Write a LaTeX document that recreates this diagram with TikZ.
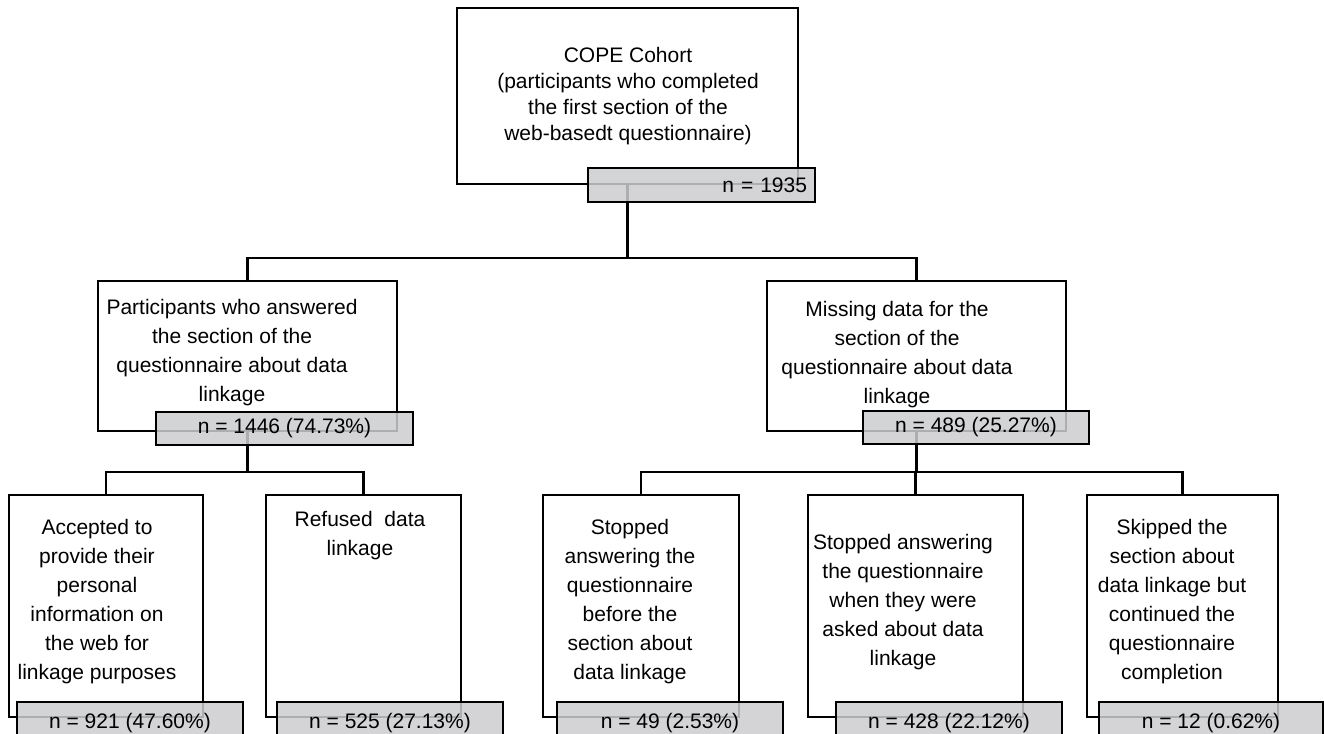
\documentclass[tikz,border=0pt]{standalone}
\usepackage{fontspec}
\setmainfont{Liberation Sans}
\usepackage[dvipsnames]{xcolor}
\definecolor{countgray}{RGB}{204,205,207}

\begin{document}
\begin{tikzpicture}[-, x=1pt, y=-1pt, line width=2.7pt, line cap=rect,
    main box/.style={rectangle, draw, fill=white, inner sep=0pt, outer sep=0pt},
    count box/.style={rectangle, draw, fill=countgray, fill opacity=0.85, text opacity=1, inner sep=0pt, outer sep=0pt, font=\fontsize{21}{29}\selectfont},
    box text/.style={align=center, inner sep=0pt, font=\fontsize{21}{29}\selectfont}]
                \useasboundingbox (0,0) rectangle (1324,733);
                \clip (0,0) rectangle (1324,733);

                % white boxes
                \node[main box, minimum width=341, minimum height=176] (b0) at (627.5,96) {};
                \node[main box, minimum width=299, minimum height=150] (b1) at (247.5,356) {};
                \node[main box, minimum width=299, minimum height=150] (b2) at (916.5,356) {};
                \node[main box, minimum width=194, minimum height=222] (b3) at (106,606) {};
                \node[main box, minimum width=195, minimum height=222] (b4) at (363.5,606) {};
                \node[main box, minimum width=196, minimum height=222] (b5) at (641,606) {};
                \node[main box, minimum width=215, minimum height=222] (b6) at (915.5,606) {};
                \node[main box, minimum width=191, minimum height=222] (b7) at (1182.5,606) {};

                \coordinate (j0) at (627.5,258);
                \coordinate (j1) at (247.5,472);
                \coordinate (j2) at (916.5,472);

                % connectors
                \draw (b0.south) -- (j0);
                \draw (b1.north) |- (j0) -| (b2.north);
                \draw (b1.south) -- (j1);
                \draw (b3.north) |- (j1) -| (b4.north);
                \draw (b2.south) -- (j2);
                \draw (b5.north) |- (j2) -| (b7.north);
                \draw (b6.north) -- (b6.north |- j2);

                % counts
                \node[count box, minimum width=227, minimum height=34, text width=211, align=right] (c0) at (701.5,185) {n = 1935};
                \node[count box, minimum width=257, minimum height=33] (c1) at (284.5,428.5) {n = 1446 (74.73\%)};
                \node[count box, minimum width=226, minimum height=33] (c2) at (976,427.5) {n = 489 (25.27\%)};
                \node[count box, minimum width=226, minimum height=42] (c3) at (130,723) {n = 921 (47.60\%)};
                \node[count box, minimum width=226, minimum height=42] (c4) at (390,723) {n = 525 (27.13\%)};
                \node[count box, minimum width=226, minimum height=42] (c5) at (670,723) {n = 49 (2.53\%)};
                \node[count box, minimum width=226, minimum height=42] (c6) at (949,723) {n = 428 (22.12\%)};
                \node[count box, minimum width=224, minimum height=42] (c7) at (1211,723) {n = 12 (0.62\%)};

                % texts
                \node[box text, font=\fontsize{21}{26}\selectfont] (t0) at (628,96) {COPE Cohort\\(participants who completed\\the first section of the\\web-basedt questionnaire)};
                \node[box text] (t1) at (232,353) {Participants who answered\\the section of the\\questionnaire about data\\linkage};
                \node[box text] (t2) at (897,355) {Missing data for the\\section of the\\questionnaire about data\\linkage};
                \node[box text] (t3) at (97,602) {Accepted to\\provide their\\personal\\information on\\the web for\\linkage purposes};
                \node[box text] (t4) at (360,536) {Refused\ \ data\\linkage};
                \node[box text] (t5) at (630,602) {Stopped\\answering the\\questionnaire\\before the\\section about\\data linkage};
                \node[box text] (t6) at (903,602) {Stopped answering\\the questionnaire\\when they were\\asked about data\\linkage};
                \node[box text] (t7) at (1172,602) {Skipped the\\section about\\data linkage but\\continued the\\questionnaire\\completion};
            \end{tikzpicture}
\end{document}
